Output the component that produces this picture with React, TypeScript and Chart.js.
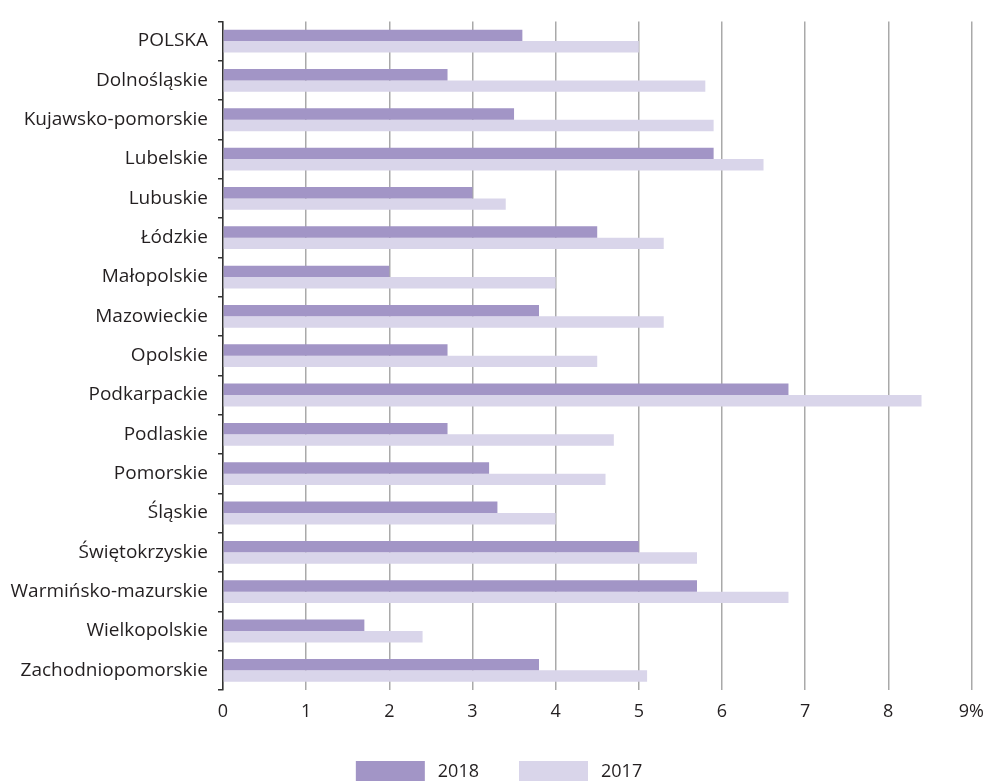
import React, { useEffect, useRef } from "react";
import { Chart, registerables } from "chart.js";

Chart.register(...registerables);

const categories = [
  "POLSKA",
  "Dolnośląskie",
  "Kujawsko-pomorskie",
  "Lubelskie",
  "Lubuskie",
  "Łódzkie",
  "Małopolskie",
  "Mazowieckie",
  "Opolskie",
  "Podkarpackie",
  "Podlaskie",
  "Pomorskie",
  "Śląskie",
  "Świętokrzyskie",
  "Warmińsko-mazurskie",
  "Wielkopolskie",
  "Zachodniopomorskie",
];

const seriesNames = ["2018", "2017"];
const values2018 = [3.6, 2.7, 3.5, 5.9, 3.0, 4.5, 2.0, 3.8, 2.7, 6.8, 2.7, 3.2, 3.3, 5.0, 5.7, 1.7, 3.8];
const values2017 = [5.0, 5.8, 5.9, 6.5, 3.4, 5.3, 4.0, 5.3, 4.5, 8.4, 4.7, 4.6, 4.0, 5.7, 6.8, 2.4, 5.1];
const xTickLabels = ["0", "1", "2", "3", "4", "5", "6", "7", "8", "9%"];

const COLOR_2018 = "#a295c6";
const COLOR_2017 = "#d9d5ea";
const TEXT = "#231f20";
const FONT = "'Open Sans', sans-serif";

const customLegend = {
  id: "customLegend",
  afterDraw(chart: any, _args: any, opts: any) {
    const ctx = chart.ctx;
    const ds = chart.data.datasets;
    ctx.save();
    ctx.font = opts.font;
    const widths = ds.map((d: any) => ctx.measureText(d.label).width);
    let total = 0;
    ds.forEach((_d: any, i: number) => {
      total += opts.boxWidth + opts.gap + widths[i];
      if (i < ds.length - 1) total += opts.itemGap;
    });
    let x = opts.centerX - total / 2;
    const y = opts.y;
    ds.forEach((d: any, i: number) => {
      ctx.fillStyle = d.backgroundColor;
      ctx.fillRect(x, y - opts.boxHeight / 2, opts.boxWidth, opts.boxHeight);
      x += opts.boxWidth + opts.gap;
      ctx.fillStyle = TEXT;
      ctx.textBaseline = "middle";
      ctx.textAlign = "left";
      ctx.fillText(d.label, x, y + 1);
      x += widths[i] + opts.itemGap;
    });
    ctx.restore();
  },
};

export default function App() {
  const ref = useRef<HTMLCanvasElement | null>(null);

  useEffect(() => {
    if (!ref.current) return;
    const chart = new Chart(ref.current, {
      type: "bar",
      data: {
        labels: categories,
        datasets: [
          {
            label: seriesNames[0],
            data: values2018,
            backgroundColor: COLOR_2018,
            borderWidth: 0,
            categoryPercentage: 0.58,
            barPercentage: 1.0,
          },
          {
            label: seriesNames[1],
            data: values2017,
            backgroundColor: COLOR_2017,
            borderWidth: 0,
            categoryPercentage: 0.58,
            barPercentage: 1.0,
          },
        ],
      },
      options: {
        indexAxis: "y",
        animation: false,
        responsive: true,
        maintainAspectRatio: false,
        layout: { padding: { top: 13, right: 16, bottom: 52, left: 0 } },
        plugins: {
          legend: { display: false },
          tooltip: { enabled: false },
          customLegend: {
            font: "18px 'Open Sans', sans-serif",
            boxWidth: 69,
            boxHeight: 20,
            gap: 13,
            itemGap: 40,
            y: 771,
            centerX: 499,
          },
        } as any,
        scales: {
          x: {
            type: "linear",
            min: 0,
            max: 9,
            ticks: {
              stepSize: 1,
              color: TEXT,
              padding: 11,
              font: { family: FONT, size: 18 },
              callback: (v: any) => xTickLabels[Number(v)] ?? String(v),
            },
            grid: {
              color: "#a9a9a9",
              lineWidth: 1.5,
              drawTicks: false,
            },
            border: { display: false },
            afterFit: (s: any) => {
              s.height = 39;
            },
          },
          y: {
            type: "category",
            ticks: {
              color: TEXT,
              padding: 10,
              font: { family: FONT, size: 19 },
            },
            grid: {
              offset: true,
              drawOnChartArea: false,
              drawTicks: true,
              tickLength: 5,
              color: "#333333",
              lineWidth: 1.5,
            },
            border: { display: true, color: "#333333", width: 1.5 },
            afterFit: (s: any) => {
              s.width = 223;
            },
          },
        },
      },
      plugins: [customLegend],
    });
    return () => chart.destroy();
  }, []);

  return (
    <div style={{ position: "absolute", left: 0, top: 0, width: 995, height: 781, background: "#fff" }}>
      <canvas ref={ref} />
    </div>
  );
}
